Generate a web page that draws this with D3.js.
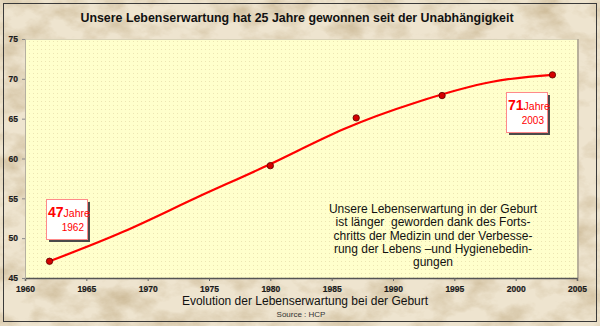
<!DOCTYPE html>
<html>
<head>
<meta charset="utf-8">
<script src="https://cdn.jsdelivr.net/npm/d3@7"></script>
<style>
    html, body { margin: 0; padding: 0; background: #e6d8bc; }
    svg { display: block; }
</style>
</head>
<body>
<div id="chart"></div>
<script>
// Life expectancy data (years, measured values)
const years = [1962, 1980, 1987, 1994, 2003];
const lifeExp = [47.1, 59.1, 65.1, 67.9, 70.5];

// Smoothed trend line
const trendYears = [1962, 1968, 1974, 1980, 1986, 1992, 1998, 2003];
const trendValues = [47.1, 50.8, 55.1, 59.3, 63.7, 67.1, 69.6, 70.5];

// Axis ticks
const xTicks = [1960, 1965, 1970, 1975, 1980, 1985, 1990, 1995, 2000, 2005];
const yTicks = [45, 50, 55, 60, 65, 70, 75];

// Text blocks
const titleText = 'Unsere Lebenserwartung hat 25 Jahre gewonnen seit der Unabhängigkeit';
const xTitle = 'Evolution der Lebenserwartung bei der Geburt';
const sourceText = 'Source : HCP';
const noteLines = [
    'Unsere Lebenserwartung in der Geburt',
    'ist länger  geworden dank des Forts-',
    'chritts der Medizin und der Verbesse-',
    'rung der Lebens \u2013und Hygienebedin-',
    'gungen'
];

const W = 600, H = 326;
const plot = { left: 25, right: 577, top: 39, bottom: 278 };
const font = 'Arial, "Liberation Sans", sans-serif';

const svg = d3.select('#chart')
    .append('svg')
    .attr('width', W)
    .attr('height', H);

const defs = svg.append('defs');

// Parchment texture for the page background
const paper = defs.append('filter')
    .attr('id', 'paper')
    .attr('x', 0).attr('y', 0)
    .attr('width', '100%').attr('height', '100%');
paper.append('feTurbulence')
    .attr('type', 'fractalNoise')
    .attr('baseFrequency', '0.03 0.045')
    .attr('numOctaves', 5)
    .attr('seed', 7)
    .attr('result', 'noise');
paper.append('feColorMatrix')
    .attr('in', 'noise')
    .attr('type', 'matrix')
    .attr('values', '0 0 0 0 0.58  0 0 0 0 0.46  0 0 0 0 0.28  1.6 0 0 0 -0.66');

// Fine dot grid inside the plot area
const dots = defs.append('pattern')
    .attr('id', 'dots')
    .attr('patternUnits', 'userSpaceOnUse')
    .attr('width', 4)
    .attr('height', 4);
dots.append('rect')
    .attr('width', 4).attr('height', 4)
    .attr('fill', '#ffffcc');
dots.append('rect')
    .attr('x', 1).attr('y', 1)
    .attr('width', 1).attr('height', 1)
    .attr('fill', '#ece5b2');

// Background
svg.append('rect')
    .attr('width', W).attr('height', H)
    .attr('fill', '#eee4cf');
svg.append('rect')
    .attr('width', W).attr('height', H)
    .attr('filter', 'url(#paper)');

// Outer frame
svg.append('rect')
    .attr('x', 3.5).attr('y', 3.5)
    .attr('width', 593).attr('height', 318)
    .attr('fill', 'none')
    .attr('stroke', '#3a3a3a')
    .attr('stroke-width', 1);

// Title
svg.append('text')
    .attr('x', 297)
    .attr('y', 22)
    .attr('text-anchor', 'middle')
    .style('font-family', font)
    .style('font-weight', 'bold')
    .style('font-size', '12.4px')
    .style('fill', '#111')
    .text(titleText);

// Scales
const x = d3.scaleLinear()
    .domain([1960, 2005])
    .range([plot.left, plot.right]);

const y = d3.scaleLinear()
    .domain([45, 75])
    .range([plot.bottom, plot.top]);

// Plot area
svg.append('rect')
    .attr('x', plot.left)
    .attr('y', plot.top)
    .attr('width', plot.right - plot.left)
    .attr('height', plot.bottom - plot.top)
    .attr('fill', 'url(#dots)');
svg.append('line')
    .attr('x1', plot.left).attr('x2', plot.right)
    .attr('y1', plot.top + 0.5).attr('y2', plot.top + 0.5)
    .attr('stroke', '#d8d2b8');
svg.append('line')
    .attr('x1', plot.right + 1).attr('x2', plot.right + 1)
    .attr('y1', plot.top).attr('y2', plot.bottom)
    .attr('stroke', '#b8b09a')
    .attr('stroke-width', 2);

// Axes
const xAxis = d3.axisBottom(x)
    .tickValues(xTicks)
    .tickSize(3)
    .tickFormat(d3.format('d'));

const yAxis = d3.axisLeft(y)
    .tickValues(yTicks)
    .tickSize(3);

const gx = svg.append('g')
    .attr('class', 'x-axis')
    .attr('transform', `translate(0,${plot.bottom})`)
    .call(xAxis);
gx.select('.domain').attr('stroke', '#555').attr('stroke-width', 1.5);
gx.selectAll('.tick line').attr('stroke', '#666');
gx.selectAll('text')
    .attr('y', 8)
    .attr('dy', '0.71em')
    .style('font-family', font)
    .style('font-weight', 'bold')
    .style('font-size', '8.5px')
    .style('fill', '#1a1a1a')
    .style('stroke', '#1a1a1a')
    .style('stroke-width', 0.2);

const gy = svg.append('g')
    .attr('class', 'y-axis')
    .attr('transform', `translate(${plot.left},0)`)
    .call(yAxis);
gy.select('.domain').attr('stroke', '#b5b0a0');
gy.selectAll('.tick line').attr('stroke', '#888');
gy.selectAll('text')
    .attr('x', -7)
    .style('font-family', font)
    .style('font-weight', 'bold')
    .style('font-size', '8.5px')
    .style('fill', '#1a1a1a')
    .style('stroke', '#1a1a1a')
    .style('stroke-width', 0.2);

// Trend curve
const line = d3.line()
    .x((d, i) => x(trendYears[i]))
    .y(d => y(d))
    .curve(d3.curveNatural);

svg.append('path')
    .datum(trendValues)
    .attr('d', line)
    .attr('fill', 'none')
    .attr('stroke', '#ff0000')
    .attr('stroke-width', 2.2);

// Measured points
svg.selectAll('.dot')
    .data(lifeExp)
    .enter()
    .append('circle')
    .attr('class', 'dot')
    .attr('cx', (d, i) => x(years[i]))
    .attr('cy', d => y(d))
    .attr('r', 3.2)
    .attr('fill', '#d40000')
    .attr('stroke', '#5a0000')
    .attr('stroke-width', 0.8);

// Callout boxes for first and last values
const callouts = [
    { i: 0, bx: 46, by: 199 },
    { i: lifeExp.length - 1, bx: 506, by: 92 }
];

callouts.forEach(c => {
    const g = svg.append('g')
        .attr('transform', `translate(${c.bx},${c.by})`);

    g.append('rect')
        .attr('x', 3).attr('y', 3)
        .attr('width', 41).attr('height', 40)
        .attr('fill', '#4a4a4a');
    g.append('rect')
        .attr('x', 0.5).attr('y', 0.5)
        .attr('width', 41).attr('height', 40)
        .attr('fill', '#ffffff')
        .attr('stroke', '#ff8a8a')
        .attr('stroke-width', 1);

    const t = g.append('text')
        .attr('x', 2)
        .attr('y', 18)
        .style('font-family', font)
        .style('fill', '#ff0000');
    t.append('tspan')
        .style('font-weight', 'bold')
        .style('font-size', '14px')
        .text(Math.round(lifeExp[c.i]));
    t.append('tspan')
        .style('font-size', '10.5px')
        .text('Jahre');

    g.append('text')
        .attr('x', 38)
        .attr('y', 32)
        .attr('text-anchor', 'end')
        .style('font-family', font)
        .style('font-size', '10px')
        .style('fill', '#ff0000')
        .text(years[c.i]);
});

// Explanatory note
svg.append('text')
    .attr('x', 433)
    .attr('y', 213)
    .attr('text-anchor', 'middle')
    .style('font-family', font)
    .style('font-size', '12px')
    .style('fill', '#111')
    .style('white-space', 'pre')
    .selectAll('tspan')
    .data(noteLines)
    .enter()
    .append('tspan')
    .attr('x', 433)
    .attr('dy', (d, i) => i === 0 ? 0 : 13.3)
    .text(d => d);

// Axis title and source
svg.append('text')
    .attr('x', 305)
    .attr('y', 305)
    .attr('text-anchor', 'middle')
    .style('font-family', font)
    .style('font-size', '12px')
    .style('fill', '#111')
    .text(xTitle);

svg.append('text')
    .attr('x', 301)
    .attr('y', 317)
    .attr('text-anchor', 'middle')
    .style('font-family', font)
    .style('font-size', '8px')
    .style('fill', '#333')
    .text(sourceText);
</script>
</body>
</html>
